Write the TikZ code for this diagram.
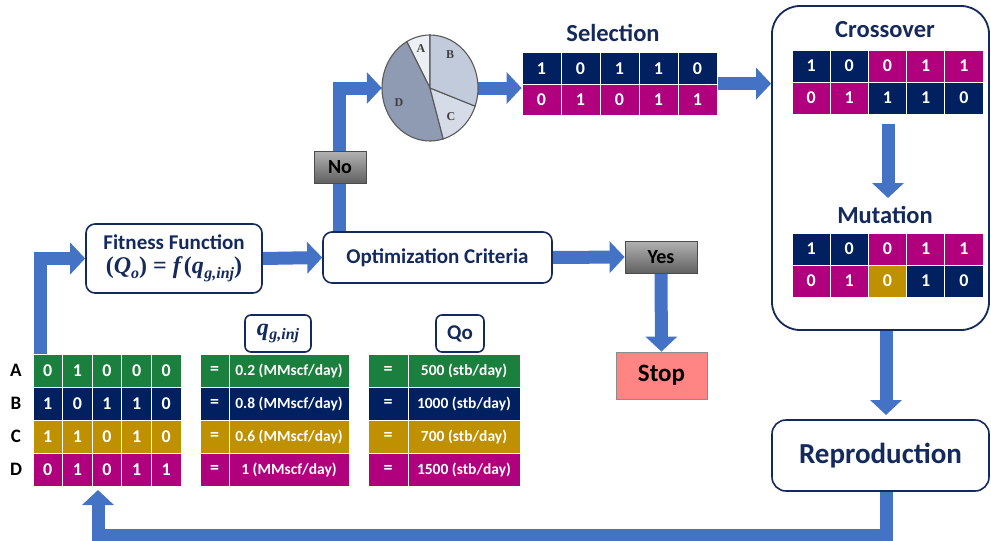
\documentclass[tikz,border=0pt]{standalone}
\usepackage{fontspec}
\setmainfont{Carlito}
\newfontfamily\piefont{Liberation Serif}
\newfontfamily\formfont{Liberation Serif}
\usetikzlibrary{arrows.meta,shapes.geometric}

\definecolor{flowblue}{HTML}{4472C4}
\definecolor{navy}{HTML}{002060}
\definecolor{inkblue}{HTML}{14295C}
\definecolor{leaf}{HTML}{1B7F3E}
\definecolor{gold}{HTML}{BF9000}
\definecolor{plum}{HTML}{B0007E}
\definecolor{stopred}{HTML}{FF8585}
\definecolor{pieA}{HTML}{ECEFF4}
\definecolor{pieB}{HTML}{C2CBDB}
\definecolor{pieC}{HTML}{D6DCE7}
\definecolor{pieD}{HTML}{8E9BB3}

\pgfdeclarelayer{back}
\pgfsetlayers{back,main}

\newcommand{\fsz}[1]{\fontsize{#1}{#1}\selectfont}
% bold italic serif variable and its lowered index
\newcommand{\fvar}[1]{\textit{#1}}
\newcommand{\findex}[2]{{\fsz{#1}\raisebox{-0.3em}{\itshape #2}}}

\tikzset{
  cell/.style={draw=white, line width=0.8pt, text=white, inner sep=0pt,
    font=\bfseries\fsz{18}},
  valcell/.style={cell, font=\bfseries\fsz{15.5}},
  heading/.style={text=inkblue, font=\bfseries\fsz{24.5}},
  procbox/.style={draw=inkblue, line width=1.6pt, fill=white, rounded corners=9pt,
    text=inkblue, font=\bfseries\fsz{21}, align=center, inner sep=0pt},
  decision/.style={draw=black!70, line width=0.8pt, top color=black!30, bottom color=black!62,
    font=\bfseries\fsz{20}, inner sep=0pt},
  flow/.style={draw=flowblue, line width=13pt, line join=miter,
    -{Triangle[length=15pt,width=31pt]}},
  rowlabel/.style={font=\bfseries\fsz{19}},
  pieletter/.style={text=black!75, font=\piefont\bfseries\fsz{12}},
  sector/.style={draw=black!65, line width=1.1pt}
}

\begin{document}
\begin{tikzpicture}[x=1pt,y=-1pt]
\useasboundingbox (0,0) rectangle (991,541);

% ---------- population table ----------
\foreach \r/\col/\y/\bits/\qv/\qo in {
    A/leaf/370.5/{0,1,0,0,0}/{0.2 (MMscf/day)}/{500 (stb/day)},
    B/navy/403.5/{1,0,1,1,0}/{0.8 (MMscf/day)}/{1000 (stb/day)},
    C/gold/436.5/{1,1,0,1,0}/{0.6 (MMscf/day)}/{700 (stb/day)},
    D/plum/469.5/{0,1,0,1,1}/{1 (MMscf/day)}/{1500 (stb/day)}} {
  \node[rowlabel] (lab\r) at (16,\y) {\r};
  \foreach \b [count=\i] in \bits
    \node[cell, fill=\col, minimum width=29.6pt, minimum height=33pt]
      (\r\i) at ({33+29.6*(\i-0.5)},\y) {\b};
  \node[cell, fill=\col, minimum width=29pt, minimum height=33pt] (qe\r) at (214.5,\y) {=};
  \node[valcell, fill=\col, minimum width=120pt, minimum height=33pt] (qv\r) at (289,\y) {\qv};
  \node[cell, fill=\col, minimum width=40pt, minimum height=33pt] (oe\r) at (388,\y) {=};
  \node[valcell, fill=\col, minimum width=112pt, minimum height=33pt] (ov\r) at (464,\y) {\qo};
}

% column captions
\node[procbox, rounded corners=6pt, minimum width=66pt, minimum height=37pt,
  font=\formfont\bfseries\fsz{24}]
  (qcap) at (278,333.5) {\fvar{q}\kern0.5pt\findex{16}{g,inj}};
\node[procbox, rounded corners=6pt, minimum width=48pt, minimum height=37pt]
  (ocap) at (460,333.5) {Qo};

% ---------- main loop boxes ----------
\node[procbox, minimum width=176pt, minimum height=69pt] (fit) at (174,258.5)
  {Fitness Function\\[3pt]
   {\formfont\bfseries\fsz{24}(\fvar{Q}\findex{16}{o}) = \fvar{f}\kern1pt(\fvar{q}\kern0.5pt\findex{16}{g,inj})}};
\node[procbox, minimum width=229pt, minimum height=51pt] (opt) at (437.5,257.5)
  {Optimization Criteria};
\node[decision, minimum width=72pt, minimum height=32pt] (yes) at (661,257) {Yes};
\node[draw=black!45, line width=0.8pt, fill=stopred, minimum width=91pt, minimum height=47pt,
  font=\bfseries\fsz{25}, inner sep=0pt] (stop) at (661.5,375.5) {Stop};
\node[decision, minimum width=52pt, minimum height=32pt] (no) at (340,167) {No};

% ---------- roulette wheel ----------
\node[ellipse, minimum width=96pt, minimum height=106pt, inner sep=0pt] (pie) at (430,88) {};
\begin{scope}[shift={(430,88)}, yscale=-1]
  \filldraw[sector, fill=pieA] (0,0) -- (90:48 and 53) arc[start angle=90, end angle=119, x radius=48, y radius=53] -- cycle;
  \filldraw[sector, fill=pieD] (0,0) -- (119:48 and 53) arc[start angle=119, end angle=286, x radius=48, y radius=53] -- cycle;
  \filldraw[sector, fill=pieC] (0,0) -- (286:48 and 53) arc[start angle=286, end angle=340, x radius=48, y radius=53] -- cycle;
  \filldraw[sector, fill=pieB] (0,0) -- (340:48 and 53) arc[start angle=340, end angle=450, x radius=48, y radius=53] -- cycle;
\end{scope}
\node[pieletter] (pa) at (421,49) {A};
\node[pieletter] (pb) at (450,55) {B};
\node[pieletter] (pc) at (451,117) {C};
\node[pieletter] (pd) at (399,103) {D};

% ---------- selection ----------
\node[heading] (selcap) at (613,33) {Selection};
\foreach \b [count=\i] in {1,0,1,1,0}
  \node[cell, fill=navy, minimum width=39pt, minimum height=31.5pt] (s1\i) at ({522+39*(\i-0.5)},68.5) {\b};
\foreach \b [count=\i] in {0,1,0,1,1}
  \node[cell, fill=plum, minimum width=39pt, minimum height=31.5pt] (s2\i) at ({522+39*(\i-0.5)},100) {\b};

% ---------- crossover and mutation ----------
\node[draw=inkblue, line width=1.8pt, rounded corners=28pt, minimum width=217pt, minimum height=324pt]
  (ga) at (880.5,168) {};
\node[heading] (cocap) at (885,30) {Crossover};
\foreach \b/\col [count=\i] in {1/navy,0/navy,0/plum,1/plum,1/plum}
  \node[cell, fill=\col, minimum width=38.2pt, minimum height=32pt] (c1\i) at ({792+38.2*(\i-0.5)},66) {\b};
\foreach \b/\col [count=\i] in {0/plum,1/plum,1/navy,1/navy,0/navy}
  \node[cell, fill=\col, minimum width=38.2pt, minimum height=32pt] (c2\i) at ({792+38.2*(\i-0.5)},98) {\b};

\node[heading] (mucap) at (885,215) {Mutation};
\foreach \b/\col [count=\i] in {1/navy,0/navy,0/plum,1/plum,1/plum}
  \node[cell, fill=\col, minimum width=38.2pt, minimum height=32pt] (m1\i) at ({792+38.2*(\i-0.5)},249) {\b};
\foreach \b/\col [count=\i] in {0/plum,1/plum,0/gold,1/navy,0/navy}
  \node[cell, fill=\col, minimum width=38.2pt, minimum height=32pt] (m2\i) at ({792+38.2*(\i-0.5)},281) {\b};

% ---------- reproduction ----------
\node[procbox, rounded corners=14pt, minimum width=217pt, minimum height=71pt, font=\bfseries\fsz{29}]
  (repro) at (880.5,455.5) {Reproduction};

% ---------- connectors ----------
\coordinate (up0) at (40,354);
\coordinate (noA) at (339,232.5);
\coordinate (coA) at (888,124);
\coordinate (coB) at (888,198);
\coordinate (gaA) at (886,330);
\coordinate (gaB) at (886,415);
\coordinate (reA) at (886,491);
\coordinate (reB) at (98,490);
\begin{pgfonlayer}{back}
  \draw[flow] (up0) |- (fit.west);
  \draw[flow] (fit.east) -- (opt.west);
  \draw[flow] (opt.east) -- (yes.west);
  \draw[flow] (yes.south) -- (stop.north);
  \draw[flow] (noA) |- (pie.west);
  \draw[flow] (pie.east) -- (pie.east -| s11.west);
  \draw[flow] (s15.south east) ++(0,-1) coordinate (selR) -- (selR -| ga.west);
  \draw[flow] (coA) -- (coB);
  \draw[flow] (gaA) -- (gaB);
  \draw[flow] (reA) -- (886,535) -- (98,535) -- (reB);
\end{pgfonlayer}
\end{tikzpicture}
\end{document}
